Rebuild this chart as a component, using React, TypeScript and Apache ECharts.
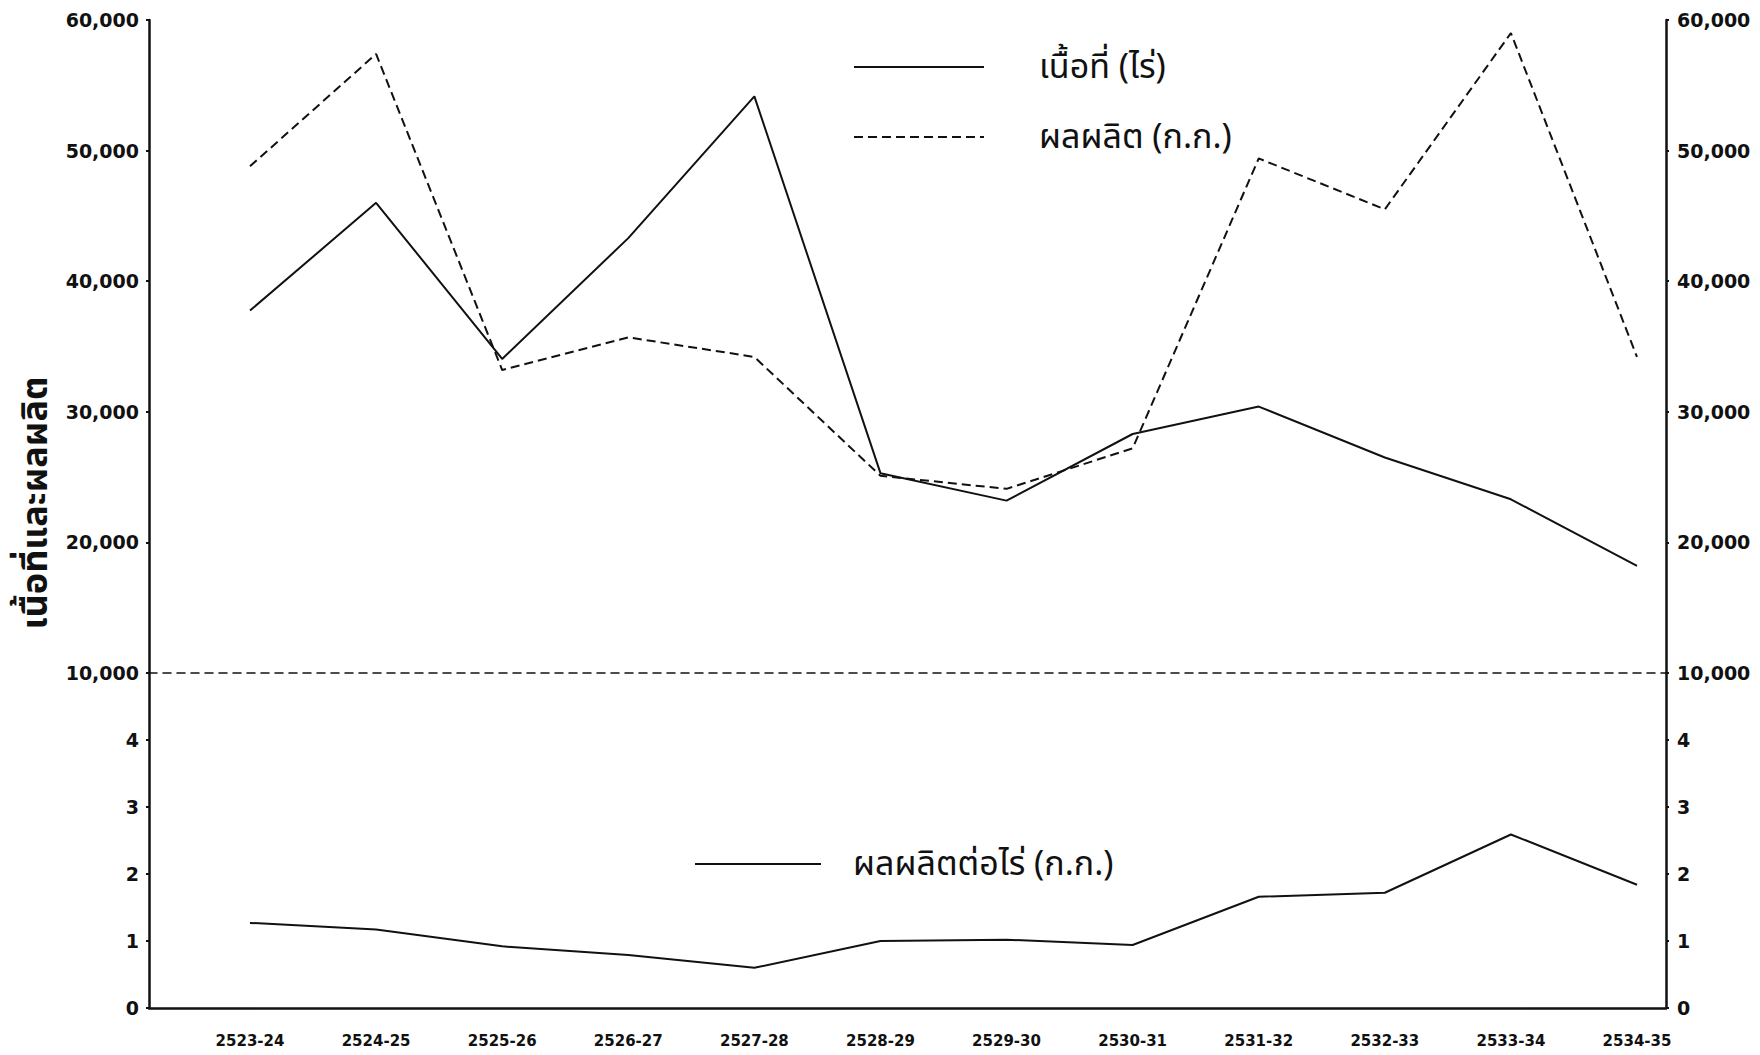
import React, { useEffect, useRef } from "react";
import * as echarts from "echarts";

const categories = [
  "2523-24", "2524-25", "2525-26", "2526-27", "2527-28", "2528-29",
  "2529-30", "2530-31", "2531-32", "2532-33", "2533-34", "2534-35",
];
const areaRai = [37750, 46000, 34050, 43300, 54150, 25300, 23200, 28300, 30400, 26500, 23300, 18200];
const productionKg = [48800, 57400, 33200, 35700, 34200, 25100, 24100, 27200, 49400, 45500, 59000, 34200];
const yieldPerRai = [1.27, 1.17, 0.92, 0.79, 0.6, 1.0, 1.02, 0.94, 1.66, 1.72, 2.59, 1.84];

const upperTicks = [10000, 20000, 30000, 40000, 50000, 60000];
const lowerTicks = [0, 1, 2, 3, 4];

const nameArea = "เนื้อที่ (ไร่)";
const nameProd = "ผลผลิต (ก.ก.)";
const nameYield = "ผลผลิตต่อไร่ (ก.ก.)";
const yAxisTitle = "เนื้อที่และผลผลิต";

const THAI_FONT = "'Noto Sans Thai', 'Noto Sans Thai Looped', Loma, Garuda, Norasi, Kinnari, 'DejaVu Sans', sans-serif";
const NUM_FONT = "'DejaVu Sans', sans-serif";
const INK = "#111";

export default function App() {
  const ref = useRef<HTMLDivElement>(null);

  useEffect(() => {
    document.body.style.margin = "0";
    if (!ref.current) return;
    const chart = echarts.init(ref.current, null, { renderer: "svg" });

    const xMin = -0.801;
    const xMax = 11.23;
    const idx = categories.map((_, i) => i);

    const yLabel = {
      fontFamily: NUM_FONT,
      fontSize: 19,
      fontWeight: "bold" as const,
      color: INK,
      margin: 10,
    };
    const axisLine = { show: true, onZero: false, lineStyle: { color: INK, width: 2.5 } };
    const axisTick = { show: true, length: 3, inside: false, lineStyle: { color: INK, width: 2 } };

    const option: any = {
      animation: false,
      backgroundColor: "#fff",
      grid: [
        { left: 149, right: 94, top: 20, height: 653 },
        { left: 149, right: 94, top: 673, height: 335 },
      ],
      xAxis: [
        {
          type: "value",
          gridIndex: 0,
          min: xMin,
          max: xMax,
          axisLine: { show: true, onZero: false, lineStyle: { color: INK, width: 1.5, type: [8, 6] } },
          axisTick: { show: false },
          axisLabel: { show: false },
          splitLine: { show: false },
        },
        {
          type: "value",
          gridIndex: 1,
          min: xMin,
          max: xMax,
          axisLine: { show: true, onZero: false, lineStyle: { color: INK, width: 2.5 } },
          axisTick: { show: false },
          axisLabel: {
            show: true,
            customValues: idx,
            formatter: (v: number) => categories[Math.round(v)] ?? "",
            fontFamily: NUM_FONT,
            fontSize: 15,
            fontWeight: "bold",
            color: INK,
            margin: 25,
          },
          splitLine: { show: false },
        },
      ],
      yAxis: [
        {
          type: "value",
          gridIndex: 0,
          position: "left",
          min: 10000,
          max: 60000,
          interval: 10000,
          axisLine,
          axisTick,
          splitLine: { show: false },
          axisLabel: { ...yLabel, formatter: (v: number) => (upperTicks.includes(v) ? v.toLocaleString("en-US") : "") },
        },
        {
          type: "value",
          gridIndex: 1,
          position: "left",
          min: 0,
          max: 5,
          interval: 1,
          axisLine,
          axisTick,
          splitLine: { show: false },
          axisLabel: { ...yLabel, formatter: (v: number) => (lowerTicks.includes(v) ? String(v) : "") },
        },
        {
          type: "value",
          gridIndex: 0,
          position: "right",
          min: 10000,
          max: 60000,
          interval: 10000,
          axisLine,
          axisTick,
          splitLine: { show: false },
          axisLabel: { ...yLabel, margin: 11, formatter: (v: number) => (upperTicks.includes(v) ? v.toLocaleString("en-US") : "") },
        },
        {
          type: "value",
          gridIndex: 1,
          position: "right",
          min: 0,
          max: 5,
          interval: 1,
          axisLine,
          axisTick,
          splitLine: { show: false },
          axisLabel: { ...yLabel, margin: 11, formatter: (v: number) => (lowerTicks.includes(v) ? String(v) : "") },
        },
      ],
      legend: [
        {
          data: [nameArea, nameProd],
          orient: "vertical",
          left: 848,
          top: 45,
          itemWidth: 130,
          itemHeight: 30,
          itemGap: 36,
          itemStyle: { color: "rgba(0,0,0,0)", borderWidth: 0 },
          textStyle: { fontFamily: THAI_FONT, fontSize: 34, color: INK, lineHeight: 30, padding: [0, 0, 0, 50] },
        },
        {
          data: [nameYield],
          orient: "horizontal",
          left: 689,
          top: 842,
          itemWidth: 126,
          itemHeight: 30,
          itemStyle: { color: "rgba(0,0,0,0)", borderWidth: 0 },
          textStyle: { fontFamily: THAI_FONT, fontSize: 34, color: INK, lineHeight: 30, padding: [0, 0, 0, 27] },
        },
      ],
      graphic: [
        {
          type: "text",
          x: 36,
          y: 503,
          rotation: Math.PI / 2,
          style: {
            text: yAxisTitle,
            font: `bold 36px ${THAI_FONT}`,
            fill: INK,
            align: "center",
            verticalAlign: "middle",
          },
        },
      ],
      series: [
        {
          name: nameArea,
          type: "line",
          xAxisIndex: 0,
          yAxisIndex: 0,
          data: areaRai.map((v, i) => [i, v]),
          symbol: "none",
          lineStyle: { color: INK, width: 2 },
          itemStyle: { color: INK },
        },
        {
          name: nameProd,
          type: "line",
          xAxisIndex: 0,
          yAxisIndex: 0,
          data: productionKg.map((v, i) => [i, v]),
          symbol: "none",
          lineStyle: { color: INK, width: 2, type: [9, 5] },
          itemStyle: { color: INK },
        },
        {
          name: nameYield,
          type: "line",
          xAxisIndex: 1,
          yAxisIndex: 1,
          data: yieldPerRai.map((v, i) => [i, v]),
          symbol: "none",
          lineStyle: { color: INK, width: 2 },
          itemStyle: { color: INK },
        },
      ],
    };

    chart.setOption(option);
    return () => chart.dispose();
  }, []);

  return <div ref={ref} style={{ width: 1760, height: 1055, position: "absolute", left: 0, top: 0 }} />;
}
